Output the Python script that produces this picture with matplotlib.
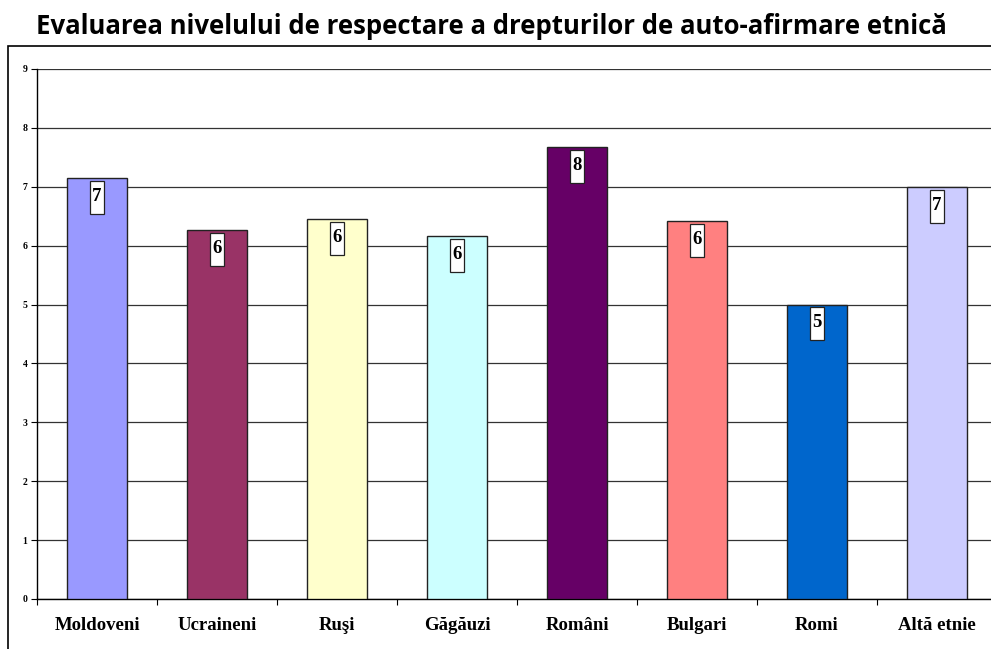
import numpy as np
import matplotlib.pyplot as plt
from matplotlib.patches import Rectangle

categories = ['Moldoveni', 'Ucraineni', 'Ruşi', 'Găgăuzi', 'Români', 'Bulgari', 'Romi', 'Altă etnie']
values = [7.15, 6.26, 6.45, 6.16, 7.67, 6.42, 5.0, 7.0]
colors = ['#9999FF', '#993366', '#FFFFCC', '#CCFFFF', '#660066', '#FF8080', '#0066CC', '#CCCCFF']

W, H = 991, 649
fig = plt.figure(figsize=(W / 100, H / 100), dpi=100)

# outer chart frame (runs off the right and bottom edges)
fig.patches.append(Rectangle((8 / W, -0.1), 1.1, 1 - 46 / H + 0.1, transform=fig.transFigure,
                             fill=False, edgecolor='black', linewidth=1.2))

fig.text(491 / W, 1 - 26 / H, 'Evaluarea nivelului de respectare a drepturilor de auto-afirmare etnică',
         ha='center', va='center', fontsize=18.5, fontweight='bold', family='Open Sans')

ax = fig.add_axes([37 / W, 1 - 599 / H, (997 - 37) / W, (599 - 69) / H])
x = np.arange(len(categories))
ax.bar(x, values, width=0.5, color=colors, edgecolor='#222222', linewidth=1, zorder=3)

# value labels: tall narrow white boxes just under the top of each bar
box_w, box_h, gap = 0.12, 0.56, 0.05
for xi, v in zip(x, values):
    ax.add_patch(Rectangle((xi - box_w / 2, v - gap - box_h), box_w, box_h, facecolor='white',
                           edgecolor='#222222', linewidth=0.9, zorder=4))
    ax.text(xi, v - gap - box_h / 2 + 0.02, f'{v:.0f}', ha='center', va='center', fontsize=13.5,
            fontweight='bold', family='Liberation Serif', zorder=5)

ax.set_xlim(-0.5, 7.5)
ax.set_ylim(0, 9)
ax.set_yticks(range(10))
ax.set_yticklabels([str(i) for i in range(10)], fontsize=7, fontweight='bold', family='Liberation Serif')
ax.yaxis.grid(True, color='#333333', linewidth=0.9, zorder=0)
ax.tick_params(axis='y', length=4, width=0.8, pad=3)

ax.set_xticks(x)
ax.set_xticklabels(categories, fontsize=13.5, fontweight='bold', family='Liberation Serif')
ax.set_xticks(np.arange(-0.5, 8, 1), minor=True)
ax.tick_params(axis='x', which='major', length=0, pad=13)
ax.tick_params(axis='x', which='minor', length=4, width=0.8)

for s in ['top', 'right']:
    ax.spines[s].set_visible(False)
for s in ['left', 'bottom']:
    ax.spines[s].set_linewidth(1)

fig.savefig('out.png', dpi=100)
